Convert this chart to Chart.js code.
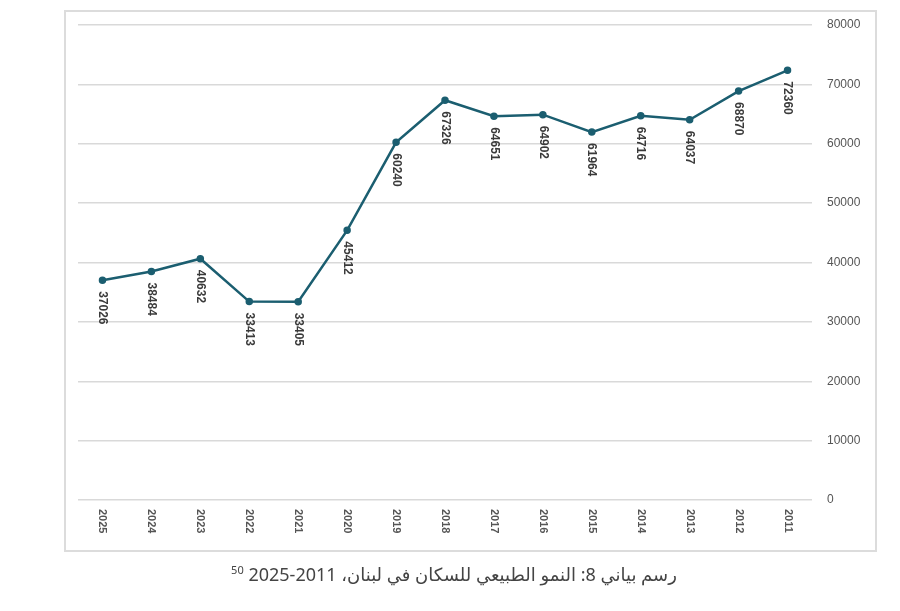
<!DOCTYPE html>
<html lang="ar">
<head>
<meta charset="utf-8">
<script src="https://cdn.jsdelivr.net/npm/chart.js@4"></script>
<style>
  body { margin: 0; background: #fff; width: 900px; height: 611px; position: relative; overflow: hidden; }
  .box { position: absolute; left: 64px; top: 10px; width: 809px; height: 538px; border: 2px solid #dcdcdc; }
  #chart { position: absolute; left: 0; top: 0; }
  .caption { position: absolute; left: 0; width: 908px; top: 562px; text-align: center; direction: rtl;
    font-family: "Noto Sans", "DejaVu Sans", sans-serif; font-size: 18px; color: #444; }
  .caption sup { font-size: 11px; }
</style>
</head>
<body>
<div class="box"></div>
<canvas id="chart" width="900" height="611"></canvas>
<div class="caption">رسم بياني 8: النمو الطبيعي للسكان في لبنان، 2011-2025 <sup>50</sup></div>
<script>
const YEARS = ["2025", "2024", "2023", "2022", "2021", "2020", "2019", "2018", "2017", "2016", "2015", "2014", "2013", "2012", "2011"];
const GROWTH = [37026, 38484, 40632, 33413, 33405, 45412, 60240, 67326, 64651, 64902, 61964, 64716, 64037, 68870, 72360];
const Y_TICKS = [0, 10000, 20000, 30000, 40000, 50000, 60000, 70000, 80000];

const LINE_COLOR = "#1b5e70";

// Rotated (clockwise) value labels under each point, and rotated year labels
// under the axis -- Chart.js only rotates tick labels counter-clockwise.
const rotatedLabels = {
  id: "rotatedLabels",
  afterDatasetsDraw(chart) {
    const { ctx } = chart;
    const meta = chart.getDatasetMeta(0);
    const xScale = chart.scales.x;
    const yScale = chart.scales.y;
    ctx.save();
    ctx.textAlign = "left";
    ctx.textBaseline = "middle";

    ctx.font = "bold 12px 'Liberation Sans', Arial, sans-serif";
    ctx.fillStyle = "#3a3a3a";
    meta.data.forEach((pt, i) => {
      ctx.save();
      ctx.translate(pt.x, pt.y + 11);
      ctx.rotate(Math.PI / 2);
      ctx.fillText(String(GROWTH[i]), 0, 0);
      ctx.restore();
    });

    ctx.font = "bold 11px 'Liberation Sans', Arial, sans-serif";
    ctx.fillStyle = "#555";
    const base = yScale.getPixelForValue(0) + 9;
    YEARS.forEach((yr, i) => {
      ctx.save();
      ctx.translate(xScale.getPixelForValue(i), base);
      ctx.rotate(Math.PI / 2);
      ctx.fillText(yr, 0, 0);
      ctx.restore();
    });
    ctx.restore();
  },
};

new Chart(document.getElementById("chart"), {
  type: "line",
  data: {
    labels: YEARS,
    datasets: [{
      data: GROWTH,
      borderColor: LINE_COLOR,
      backgroundColor: LINE_COLOR,
      borderWidth: 2.5,
      pointRadius: 2.5,
      pointBackgroundColor: LINE_COLOR,
      pointBorderColor: LINE_COLOR,
      tension: 0,
    }],
  },
  options: {
    animation: false,
    responsive: false,
    layout: { padding: { left: 78, top: 25, right: 0, bottom: 111 } },
    plugins: { legend: { display: false }, tooltip: { enabled: false } },
    scales: {
      x: {
        offset: true,
        grid: { display: false },
        border: { display: false },
        ticks: { display: false },
        afterFit(scale) { scale.height = 0; },
      },
      y: {
        position: "right",
        min: 0,
        max: 80000,
        afterBuildTicks(scale) { scale.ticks = Y_TICKS.map((v) => ({ value: v })); },
        afterFit(scale) { scale.width = 88; },
        grid: { color: "#d9d9d9", lineWidth: 1.5, drawTicks: false },
        border: { display: false },
        ticks: {
          padding: 15,
          color: "#555",
          font: { family: "'Liberation Sans', Arial, sans-serif", size: 12 },
          callback: (v) => String(v),
        },
      },
    },
  },
  plugins: [rotatedLabels],
});
</script>
</body>
</html>
